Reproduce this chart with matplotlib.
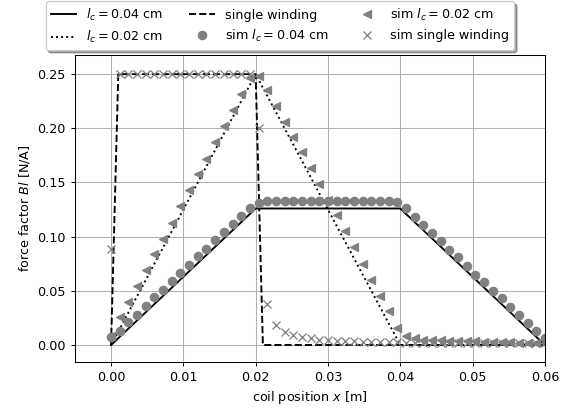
import numpy as np
import matplotlib
matplotlib.use("Agg")
import matplotlib.pyplot as plt

# theory lines (vertices)
x_lc04 = [0.0, 0.02, 0.04, 0.06]
y_lc04 = [0.0, 0.126, 0.126, 0.0]
x_lc02 = [0.0, 0.02, 0.04, 0.06]
y_lc02 = [0.0, 0.25, 0.0, 0.0]
x_single = [0.0, 0.001, 0.02, 0.021, 0.06]
y_single = [0.0, 0.25, 0.25, 0.0, 0.0]

# simulation sample positions (51 points, 0 .. 0.06 m)
x_sim = np.linspace(0.0, 0.06, 51)

sim_lc04 = [0.007, 0.013, 0.021, 0.028, 0.036, 0.044, 0.051, 0.059, 0.066, 0.074,
            0.082, 0.089, 0.097, 0.104, 0.112, 0.119, 0.126, 0.131, 0.133, 0.133,
            0.133, 0.133, 0.133, 0.133, 0.133, 0.133, 0.133, 0.133, 0.133, 0.133,
            0.133, 0.133, 0.133, 0.132, 0.126, 0.118, 0.111, 0.103, 0.096, 0.088,
            0.081, 0.073, 0.065, 0.058, 0.050, 0.043, 0.035, 0.028, 0.020, 0.013,
            0.006]

sim_lc02 = [0.008, 0.026, 0.040, 0.054, 0.069, 0.084, 0.098, 0.113, 0.128, 0.143,
            0.158, 0.172, 0.187, 0.202, 0.217, 0.232, 0.246, 0.248, 0.235, 0.221,
            0.206, 0.192, 0.178, 0.163, 0.149, 0.134, 0.120, 0.105, 0.090, 0.075,
            0.060, 0.045, 0.031, 0.016, 0.008, 0.006, 0.005, 0.005, 0.005, 0.004,
            0.004, 0.004, 0.004, 0.003, 0.003, 0.003, 0.003, 0.002, 0.002, 0.002,
            0.002]

sim_single = [0.089, 0.250, 0.250, 0.250, 0.250, 0.250, 0.250, 0.250, 0.250, 0.250,
              0.250, 0.250, 0.250, 0.250, 0.250, 0.250, 0.250, 0.200, 0.038, 0.018,
              0.012, 0.009, 0.007, 0.006, 0.005, 0.005, 0.004, 0.004, 0.004, 0.003,
              0.003, 0.003, 0.003, 0.003, 0.002, 0.002, 0.002, 0.002, 0.002, 0.002,
              0.002, 0.002, 0.002, 0.002, 0.002, 0.002, 0.002, 0.002, 0.002, 0.002,
              0.002]

DPI = 92
fig = plt.figure(figsize=(576 / DPI, 411 / DPI), dpi=DPI)
ax = fig.add_axes([0.130, 0.120, 0.816, 0.747])

ax.plot(x_lc04, y_lc04, 'k-', lw=1.5, label=r'$l_c = 0.04$ cm')
ax.plot(x_lc02, y_lc02, 'k:', lw=1.5, label=r'$l_c = 0.02$ cm')
ax.plot(x_single, y_single, 'k--', lw=1.5, label='single winding')
ax.plot(x_sim, sim_lc04, 'o', color='gray', ms=6.5, lw=0, label=r'sim $l_c = 0.04$ cm')
ax.plot(x_sim, sim_lc02, '<', color='gray', ms=6.5, lw=0, label=r'sim $l_c = 0.02$ cm')
ax.plot(x_sim, sim_single, 'x', color='gray', ms=6.5, lw=0, label='sim single winding')

ax.set_xlim(-0.005, 0.06)
ax.set_ylim(-0.0154, 0.268)
ax.set_xticks([0.0, 0.01, 0.02, 0.03, 0.04, 0.05, 0.06])
ax.set_yticks([0.0, 0.05, 0.10, 0.15, 0.20, 0.25])
ax.grid(True)
ax.set_xlabel(r'coil position $x$ [m]')
ax.set_ylabel(r'force factor $Bl$ [N/A]')

fig.legend(loc='upper center', bbox_to_anchor=(280 / 576, 1 + 5 / 411), ncol=3,
           shadow=True, fancybox=True, fontsize=10)

fig.savefig('out.png', dpi=DPI)
